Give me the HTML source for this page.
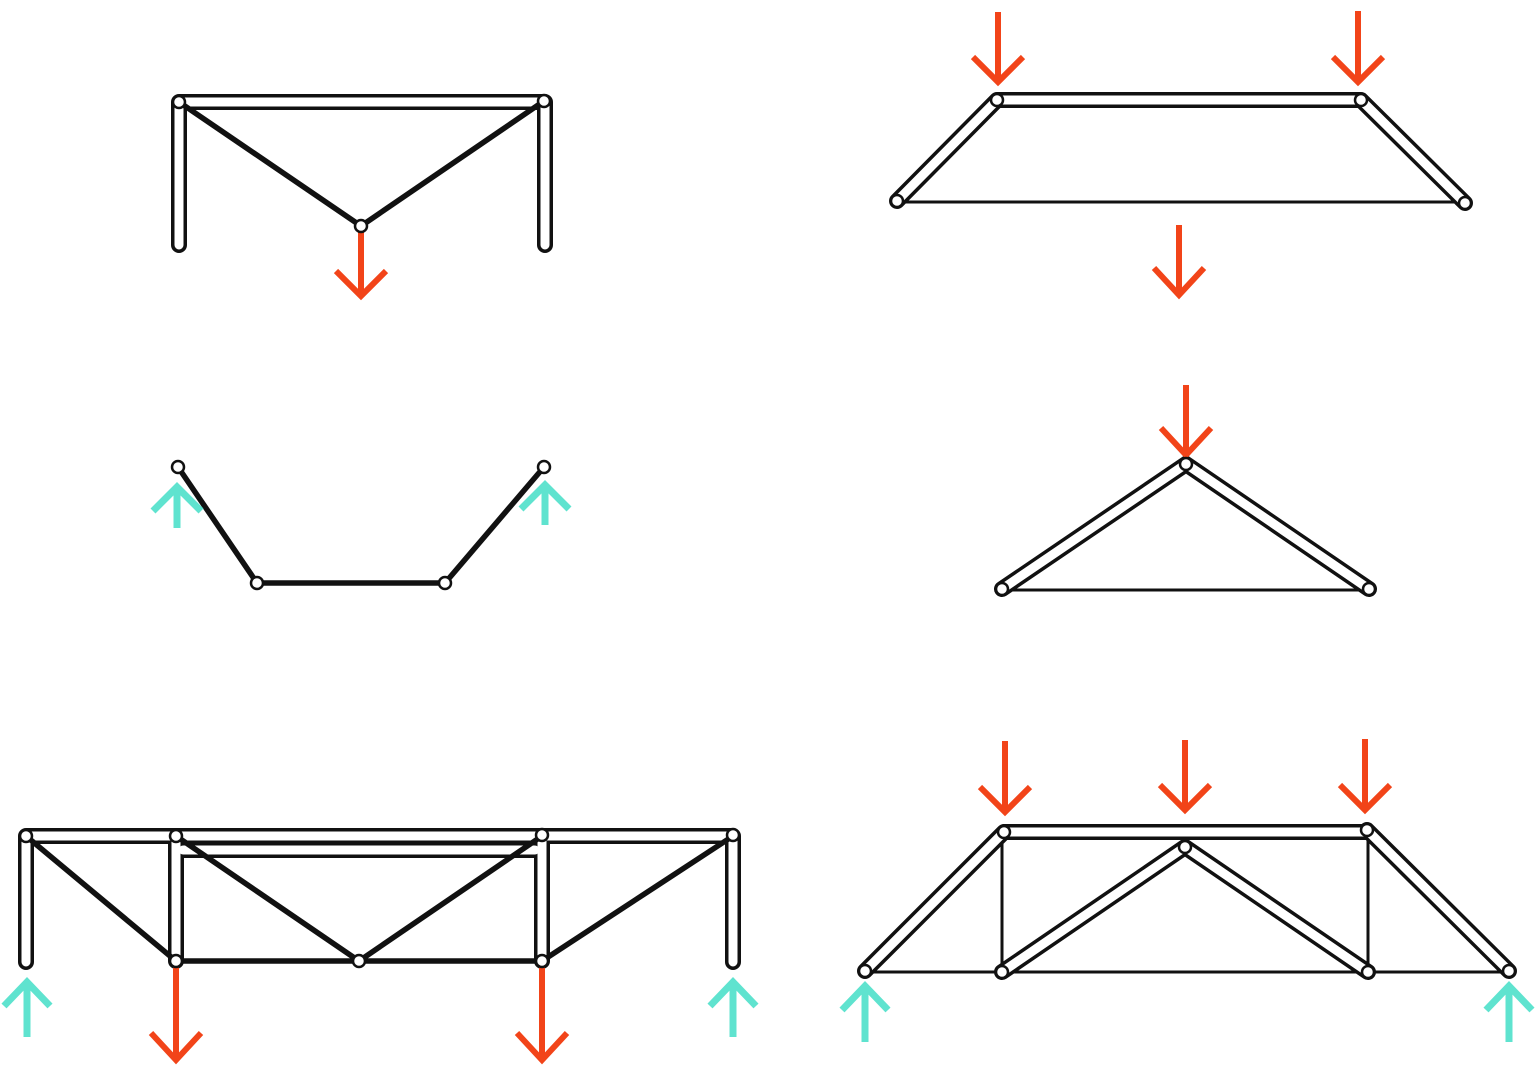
<!DOCTYPE html>
<html><head><meta charset="utf-8"><style>html,body{margin:0;padding:0;background:#fff}svg{display:block}</style></head>
<body>
<svg width="1536" height="1068" viewBox="0 0 1536 1068" xmlns="http://www.w3.org/2000/svg">
<defs>
<style>
.tie{stroke:#111;stroke-width:3;fill:none}
.cab{stroke:#111;stroke-width:5.5;fill:none}
.to{stroke:#111;stroke-width:16;stroke-linecap:round;fill:none}
.ti{stroke:#fff;stroke-width:9;stroke-linecap:round;fill:none}
.n{fill:#fff;stroke:#111;stroke-width:2.5}
.or{stroke:#f24419;stroke-width:6;fill:none}
.cy{stroke:#5fe3cf;stroke-width:7;fill:none}
</style>
</defs>

<g>
<path class="to" d="M179 102 L544 102 M179 102 L179 245 M545 102 L545 245"/>
<path class="ti" d="M179 102 L544 102 M179 102 L179 245 M545 102 L545 245"/>
<path class="cab" d="M179 102 L361 226 L544 101"/>
<line class="or" x1="361" y1="232" x2="361" y2="294"/>
<path class="or" d="M336 271 L361 296 L386 271"/>
<circle class="n" cx="179" cy="102" r="6"/><circle class="n" cx="544" cy="101" r="6"/><circle class="n" cx="361" cy="226" r="6"/>
</g>

<g>
<path class="cab" d="M178 467 L257 583 L445 583 L544 467"/>
<line class="cy" x1="177" y1="528" x2="177" y2="489"/><path class="cy" d="M153 511 L177 487 L201 511"/>
<line class="cy" x1="545" y1="525" x2="545" y2="486"/><path class="cy" d="M521 509 L545 485 L569 509"/>
<circle class="n" cx="178" cy="467" r="6"/><circle class="n" cx="257" cy="583" r="6"/><circle class="n" cx="445" cy="583" r="6"/><circle class="n" cx="544" cy="467" r="6"/>
</g>

<g>
<path class="to" d="M26 836 L733 836 M183 850 L535 850 M26 836 L26 962 M176 836 L176 961 M542 836 L542 961 M733 836 L733 962"/>
<path class="ti" d="M26 836 L733 836 M183 850 L535 850 M26 836 L26 962 M176 836 L176 961 M542 836 L542 961 M733 836 L733 962"/>
<path class="cab" d="M26 836 L176 961 L542 961 L733 836 M176 836 L359 961 L542 836"/>
<line class="or" x1="176" y1="967" x2="176" y2="1058"/><path class="or" d="M151 1033 L176 1060 L201 1033"/>
<line class="or" x1="542" y1="967" x2="542" y2="1058"/><path class="or" d="M517 1033 L542 1060 L567 1033"/>
<line class="cy" x1="27" y1="1037" x2="27" y2="984"/><path class="cy" d="M4 1006 L27 982 L50 1006"/>
<line class="cy" x1="733" y1="1037" x2="733" y2="984"/><path class="cy" d="M710 1006 L733 982 L756 1006"/>
<circle class="n" cx="26" cy="836" r="6"/><circle class="n" cx="176" cy="836" r="6"/><circle class="n" cx="542" cy="835" r="6"/><circle class="n" cx="733" cy="835" r="6"/>
<circle class="n" cx="176" cy="961" r="6"/><circle class="n" cx="359" cy="961" r="6"/><circle class="n" cx="542" cy="961" r="6"/>
</g>

<g>
<line class="tie" x1="897" y1="202" x2="1465" y2="202"/>
<path class="to" d="M997 100 L1361 100 M997 100 L897 201 M1361 100 L1465 203"/>
<path class="ti" d="M997 100 L1361 100 M997 100 L897 201 M1361 100 L1465 203"/>
<line class="or" x1="998" y1="12" x2="998" y2="80"/><path class="or" d="M973 57 L998 82 L1023 57"/>
<line class="or" x1="1358" y1="11" x2="1358" y2="80"/><path class="or" d="M1333 57 L1358 82 L1383 57"/>
<line class="or" x1="1179" y1="225" x2="1179" y2="293"/><path class="or" d="M1154 268 L1179 295 L1204 268"/>
<circle class="n" cx="997" cy="100" r="6"/><circle class="n" cx="1361" cy="100" r="6"/><circle class="n" cx="897" cy="201" r="6"/><circle class="n" cx="1465" cy="203" r="6"/>
</g>

<g>
<line class="tie" x1="1002" y1="590" x2="1369" y2="590"/>
<path class="to" d="M1002 589 L1186 464 L1369 589"/>
<path class="ti" d="M1002 589 L1186 464 L1369 589"/>
<line class="or" x1="1186" y1="385" x2="1186" y2="453"/><path class="or" d="M1161 428 L1186 455 L1211 428"/>
<circle class="n" cx="1186" cy="464" r="6"/><circle class="n" cx="1002" cy="589" r="6"/><circle class="n" cx="1369" cy="589" r="6"/>
</g>

<g>
<path class="tie" d="M865 972 L1509 972 M1002 839 L1002 972 M1368 839 L1368 972"/>
<path class="to" d="M1004 832 L1367 832 M865 971 L1004 832 M1367 830 L1509 971 M1002 972 L1185 847 L1368 972"/>
<path class="ti" d="M1004 832 L1367 832 M865 971 L1004 832 M1367 830 L1509 971 M1002 972 L1185 847 L1368 972"/>
<line class="or" x1="1005" y1="741" x2="1005" y2="810"/><path class="or" d="M980 787 L1005 812 L1030 787"/>
<line class="or" x1="1185" y1="740" x2="1185" y2="808"/><path class="or" d="M1160 785 L1185 810 L1210 785"/>
<line class="or" x1="1365" y1="739" x2="1365" y2="808"/><path class="or" d="M1340 785 L1365 810 L1390 785"/>
<line class="cy" x1="865" y1="1042" x2="865" y2="988"/><path class="cy" d="M842 1010 L865 986 L888 1010"/>
<line class="cy" x1="1509" y1="1042" x2="1509" y2="988"/><path class="cy" d="M1486 1010 L1509 986 L1532 1010"/>
<circle class="n" cx="1004" cy="832" r="6"/><circle class="n" cx="1367" cy="830" r="6"/><circle class="n" cx="1185" cy="847" r="6"/>
<circle class="n" cx="865" cy="971" r="6"/><circle class="n" cx="1002" cy="972" r="6"/><circle class="n" cx="1368" cy="972" r="6"/><circle class="n" cx="1509" cy="971" r="6"/>
</g>
</svg>
</body></html>
